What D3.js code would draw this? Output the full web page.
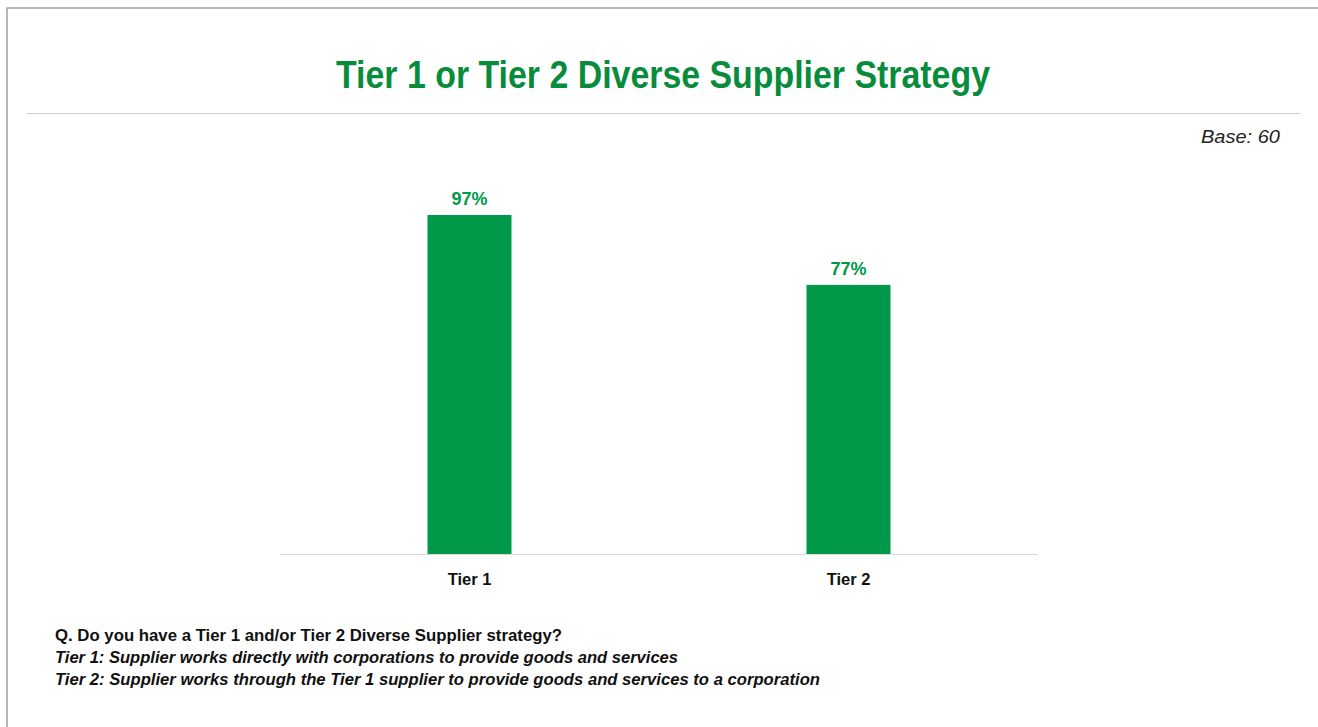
<!DOCTYPE html>
<html><head><meta charset="utf-8">
<script src="https://cdn.jsdelivr.net/npm/d3@7"></script>
<style>html,body{margin:0;padding:0;background:#fff;overflow:hidden}</style>
</head><body>
<script>
const categories = ["Tier 1", "Tier 2"];
const values = [97, 77];
const valueLabels = ["97%", "77%"];
const titleText = "Tier 1 or Tier 2 Diverse Supplier Strategy";
const baseText = "Base: 60";
const notes = [
  "Q. Do you have a Tier 1 and/or Tier 2 Diverse Supplier strategy?",
  "Tier 1: Supplier works directly with corporations to provide goods and services",
  "Tier 2: Supplier works through the Tier 1 supplier to provide goods and services to a corporation"
];

const W = 1318, H = 727;
const svg = d3.select("body").append("svg").attr("width", W).attr("height", H);
const font = "'Liberation Sans', Arial, sans-serif";

// frame
svg.append("path").attr("d", `M7,${H} L7,8 L${W},8`).attr("fill","none").attr("stroke","#a0a0a0").attr("stroke-width",1.5);

// title
svg.append("text").attr("x", 663).attr("y", 88).attr("text-anchor","middle")
  .attr("font-family", font).attr("font-weight","bold").attr("font-size", 38)
  .attr("fill","#078c3c").attr("textLength",654).attr("lengthAdjust","spacingAndGlyphs")
  .text(titleText);

svg.append("line").attr("x1",27).attr("x2",1300).attr("y1",113.5).attr("y2",113.5)
  .attr("stroke","#d0d0d0").attr("stroke-width",1);

svg.append("text").attr("x",1280).attr("y",143).attr("text-anchor","end")
  .attr("font-family", font).attr("font-style","italic").attr("font-size",19)
  .attr("fill","#222").attr("textLength",79).attr("lengthAdjust","spacingAndGlyphs")
  .text(baseText);

// scales
const x = d3.scaleBand().domain(categories).range([280, 1038]).padding(0);
const y = d3.scaleLinear().domain([0, 100]).range([554, 204.5]);
const barW = 84;

svg.append("line").attr("x1",280).attr("x2",1038).attr("y1",554.5).attr("y2",554.5)
  .attr("stroke","#d9d9d9").attr("stroke-width",1.2);

svg.selectAll("rect.bar").data(values).enter().append("rect").attr("class","bar")
  .attr("x",(d,i)=>x(categories[i]) + x.bandwidth()/2 - barW/2)
  .attr("width",barW)
  .attr("y",d=>y(d)).attr("height",d=>y(0)-y(d))
  .attr("fill","#00994a");

svg.selectAll("text.val").data(values).enter().append("text").attr("class","val")
  .attr("x",(d,i)=>x(categories[i]) + x.bandwidth()/2)
  .attr("y",d=>y(d)-10)
  .attr("text-anchor","middle").attr("font-family", font).attr("font-weight","bold")
  .attr("font-size",18).attr("fill","#00994a")
  .text((d,i)=>valueLabels[i]);

// x axis labels via d3 axis
const axisG = svg.append("g").attr("transform","translate(0,554)")
  .call(d3.axisBottom(x).tickSize(0).tickPadding(19));
axisG.select(".domain").remove();
axisG.selectAll("text").attr("font-family", font).attr("font-weight","bold")
  .attr("font-size",16.5).attr("fill","#111");

// notes
const noteY = [641, 663, 685];
const noteW = [507, 623, 765];
notes.forEach((t,i)=>{
  svg.append("text").attr("x",55).attr("y",noteY[i])
    .attr("font-family", font).attr("font-weight","bold")
    .attr("font-style", i===0 ? "normal" : "italic")
    .attr("font-size",17).attr("fill","#111")
    .attr("textLength",noteW[i]).attr("lengthAdjust","spacingAndGlyphs")
    .text(t);
});
</script>
</body></html>
